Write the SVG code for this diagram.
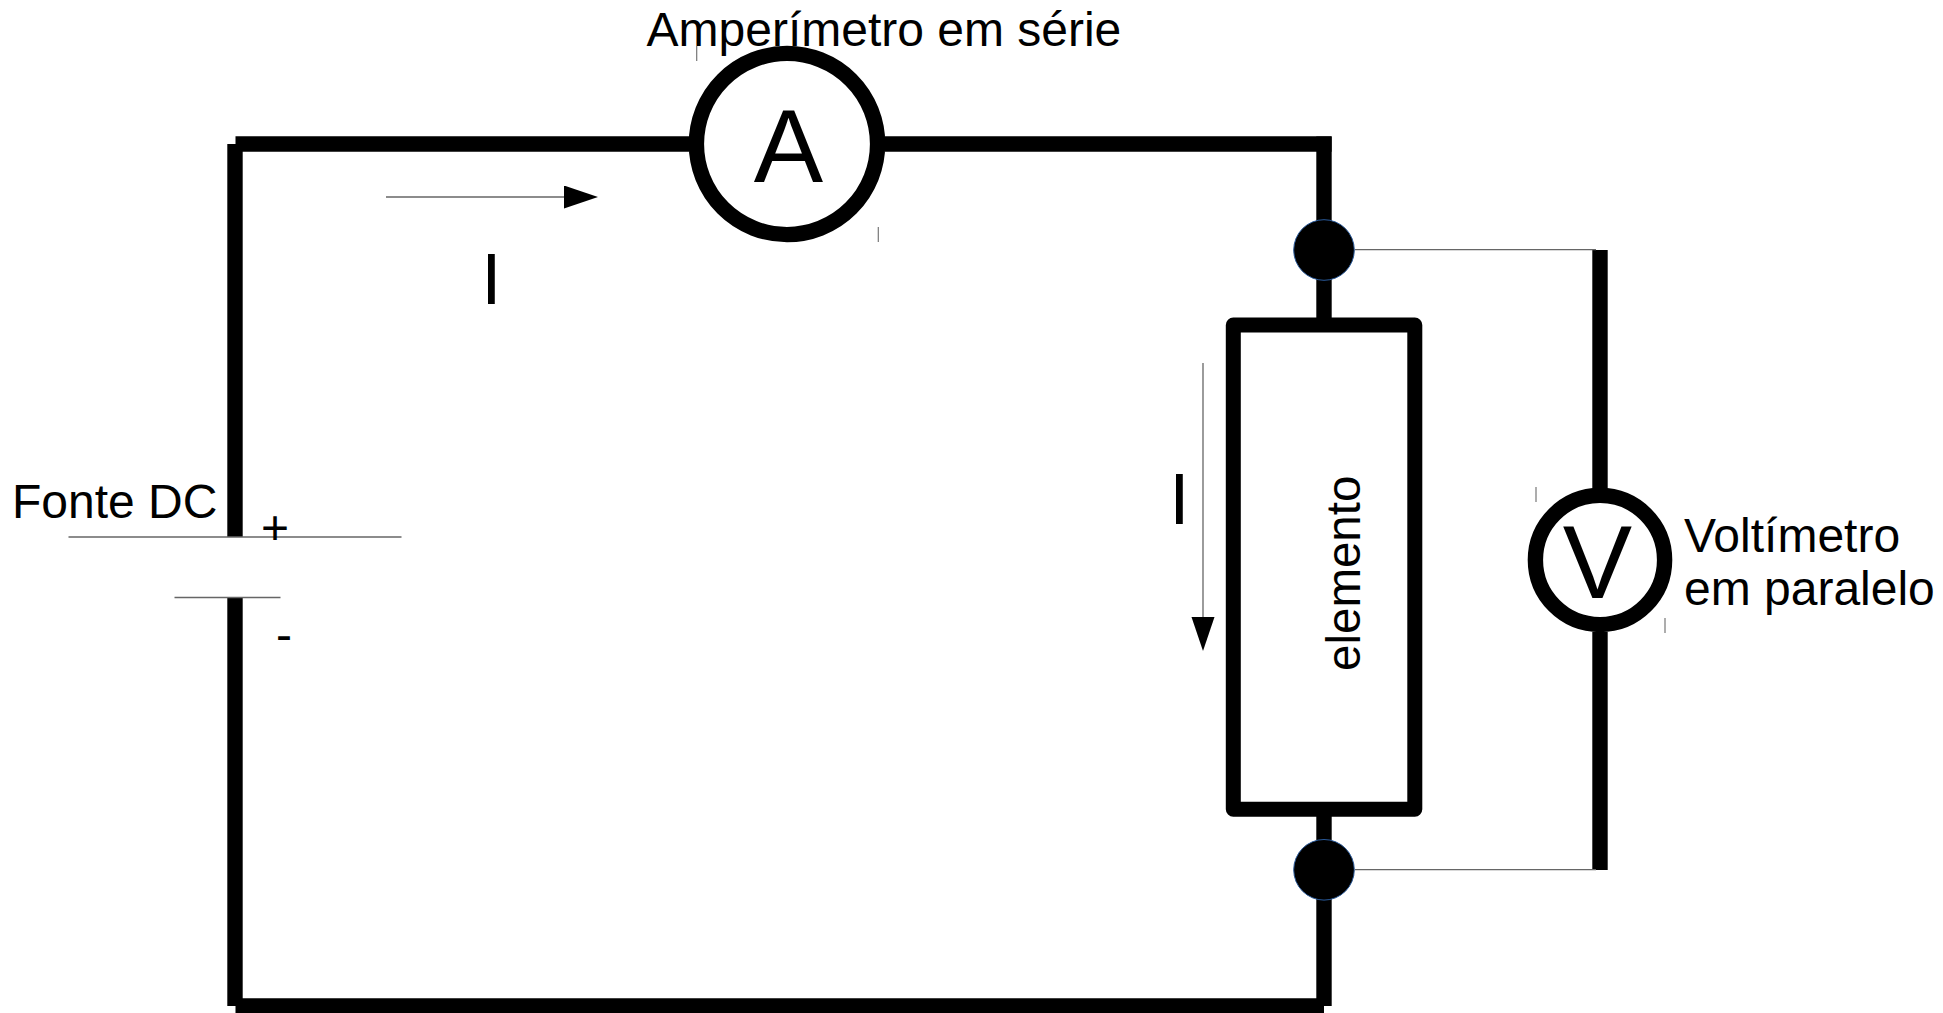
<svg xmlns="http://www.w3.org/2000/svg" width="1943" height="1013" viewBox="0 0 1943 1013">
<style>
text{font-family:"Liberation Sans",Arial,sans-serif;fill:#000}
.t{font-size:48px}
.b{font-size:104px;text-anchor:middle}
.i{font-size:73px;text-anchor:middle}
.w{fill:none;stroke:#000;stroke-width:15.4}
.n{fill:none;stroke:#666;stroke-width:1.3}
.m{fill:none;stroke:#777;stroke-width:1.2}
.d{fill:#000;stroke:#2a5a9a;stroke-width:1}
.c{fill:#fff;stroke:#000;stroke-width:15.4}
</style>
<defs>
<marker id="ah" markerUnits="userSpaceOnUse" markerWidth="34" markerHeight="24" refX="0" refY="11.5" orient="auto"><path d="M0 0L34 11.5L0 23Z" fill="#000"/></marker>
</defs>
<rect width="1943" height="1013" fill="#fff"/>
<g id="connectors">
<path class="w" d="M235.5 144H689"/>
<path class="w" d="M885 144H1331.6"/>
<path class="w" d="M1324 136.5V325"/>
<path class="w" d="M1324 809V1006"/>
<path class="w" d="M235 144V537"/>
<path class="w" d="M235 597.5V1006"/>
<path class="w" d="M235.5 1006H1324"/>
<path class="w" d="M1600 250V488"/>
<path class="w" d="M1600 632V870"/>
<path class="n" d="M1355 249.7H1596"/>
<path class="n" d="M1355 869.7H1596"/>
<path class="n" d="M68.5 537H401.5"/>
<path class="n" d="M174.5 597.5H280.5"/>
<path class="n" d="M386 197H564" marker-end="url(#ah)"/>
<path class="n" d="M1203 363V617" marker-end="url(#ah)"/>
</g>
<g id="ammeter">
<circle class="c" cx="787" cy="144" r="90.6"/>
<text class="b" x="788.5" y="182">A</text>
<path class="m" d="M696.7 46V61M878.3 227V242"/>
</g>
<g id="ammeter-label"><text class="t" x="646.5" y="46">Amperímetro em série</text></g>
<g id="voltmeter">
<circle class="c" cx="1600" cy="560" r="64.6"/>
<text class="b" x="1597.5" y="598">V</text>
<path class="m" d="M1536 487V502M1665 618V633"/>
</g>
<g id="voltmeter-label">
<text class="t" x="1684" y="552">Voltímetro</text>
<text class="t" x="1684" y="605">em paralelo</text>
</g>
<g id="element">
<rect x="1233.3" y="325" width="181.5" height="484.3" fill="#fff" stroke="#000" stroke-width="15" stroke-linejoin="round"/>
<text class="t" style="font-size:47.5px" transform="translate(1360 671) rotate(-90)">elemento</text>
</g>
<g id="node-top"><circle class="d" cx="1324" cy="250" r="30.3"/></g>
<g id="node-bottom"><circle class="d" cx="1324" cy="869.8" r="30.3"/></g>
<g id="source-label">
<text class="t" x="12" y="518">Fonte DC</text>
<text class="t" x="261" y="544">+</text>
<text class="t" x="276" y="651">-</text>
</g>
<g id="current-labels">
<text class="i" x="491.5" y="304">I</text>
<text class="i" x="1179.5" y="524">I</text>
</g>
</svg>
